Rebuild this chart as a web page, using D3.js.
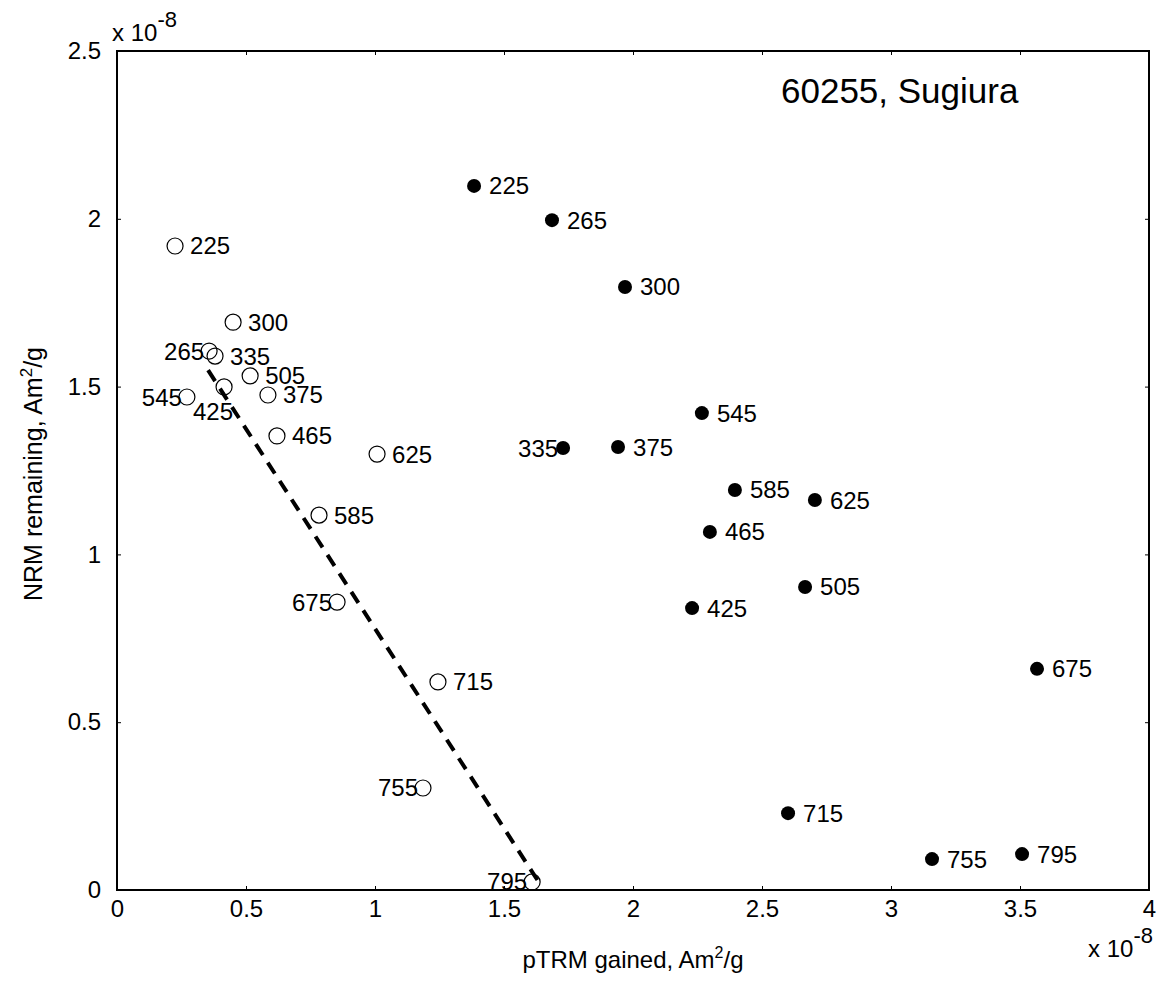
<!DOCTYPE html>
<html>
<head>
<meta charset="utf-8">
<script src="https://cdn.jsdelivr.net/npm/d3@7"></script>
<style>
body{margin:0;background:#fff;}
text{font-family:Arial,"Liberation Sans",sans-serif;fill:#000;}
</style>
</head>
<body>
<svg></svg>
<script>
var width = 1167;
var height = 983;

// temperature steps (deg C), same order for both series
var temps = [225, 265, 300, 335, 375, 425, 465, 505, 545, 585, 625, 675, 715, 755, 795];

// open circles: pTRM gained vs NRM remaining (x 1e-8)
var openX = [0.225, 0.357, 0.450, 0.380, 0.585, 0.415, 0.620, 0.516, 0.271, 0.783, 1.008, 0.853, 1.244, 1.186, 1.609];
var openY = [1.919, 1.606, 1.692, 1.591, 1.475, 1.499, 1.353, 1.532, 1.469, 1.117, 1.299, 0.858, 0.620, 0.304, 0.024];

// filled dots (x 1e-8)
var filledX = [1.384, 1.686, 1.969, 1.729, 1.942, 2.229, 2.298, 2.667, 2.267, 2.395, 2.705, 3.566, 2.601, 3.159, 3.508];
var filledY = [2.098, 1.996, 1.797, 1.317, 1.320, 0.840, 1.067, 0.903, 1.421, 1.192, 1.162, 0.659, 0.229, 0.092, 0.107];

// dashed best-fit segment
var fitX = [0.353, 1.647];
var fitY = [1.549, 0.009];

var xTicks = [0, 0.5, 1, 1.5, 2, 2.5, 3, 3.5, 4];
var yTicks = [0, 0.5, 1, 1.5, 2, 2.5];

// which side each label goes on
var openSide = ["r","l","r","r","r","b","r","r","l","r","r","l","r","l","l"];
var filledSide = ["r","r","r","l","r","r","r","r","r","r","r","r","r","r","r"];

var plotLeft = 117, plotRight = 1149, plotTop = 51, plotBottom = 890;

var svg = d3.select("svg").attr("width", width).attr("height", height);

var x = d3.scaleLinear().domain([0, 4]).range([plotLeft, plotRight]);
var y = d3.scaleLinear().domain([0, 2.5]).range([plotBottom, plotTop]);

var fmt = function(d){ return d3.format("")(d); };

// axes (ticks point inward)
svg.append("g")
  .attr("transform", "translate(0," + plotBottom + ")")
  .call(d3.axisBottom(x).tickValues(xTicks).tickFormat(fmt).tickSizeInner(-4).tickSizeOuter(0).tickPadding(10))
  .call(function(g){ g.select(".domain").remove(); });
svg.append("g")
  .attr("transform", "translate(0," + plotTop + ")")
  .call(d3.axisTop(x).tickValues(xTicks).tickFormat("").tickSizeInner(-4).tickSizeOuter(0))
  .call(function(g){ g.select(".domain").remove(); });
svg.append("g")
  .attr("transform", "translate(" + plotLeft + ",0)")
  .call(d3.axisLeft(y).tickValues(yTicks).tickFormat(fmt).tickSizeInner(-4).tickSizeOuter(0).tickPadding(16))
  .call(function(g){ g.select(".domain").remove(); });
svg.append("g")
  .attr("transform", "translate(" + plotRight + ",0)")
  .call(d3.axisRight(y).tickValues(yTicks).tickFormat("").tickSizeInner(-4).tickSizeOuter(0))
  .call(function(g){ g.select(".domain").remove(); });

svg.selectAll(".tick text").attr("font-size", 24).attr("font-family", "Arial, 'Liberation Sans', sans-serif");
svg.selectAll(".tick line").attr("stroke", "#000").attr("stroke-width", 1);

svg.append("rect")
  .attr("x", plotLeft).attr("y", plotTop)
  .attr("width", plotRight - plotLeft).attr("height", plotBottom - plotTop)
  .attr("fill", "none").attr("stroke", "#000").attr("stroke-width", 2);

// fit line
svg.append("line")
  .attr("x1", x(fitX[0])).attr("y1", y(fitY[0]))
  .attr("x2", x(fitX[1])).attr("y2", y(fitY[1]))
  .attr("stroke", "#000").attr("stroke-width", 4)
  .attr("stroke-dasharray", "13,9");

var openData = temps.map(function(t, i){ return {t: t, x: openX[i], y: openY[i], side: openSide[i]}; });
var filledData = temps.map(function(t, i){ return {t: t, x: filledX[i], y: filledY[i], side: filledSide[i]}; });

svg.append("g").selectAll("circle").data(openData).enter()
  .append("circle")
  .attr("cx", function(d){ return x(d.x); })
  .attr("cy", function(d){ return y(d.y); })
  .attr("r", 8)
  .attr("fill", "none").attr("stroke", "#000").attr("stroke-width", 1.2);

svg.append("g").selectAll("circle").data(filledData).enter()
  .append("circle")
  .attr("cx", function(d){ return x(d.x); })
  .attr("cy", function(d){ return y(d.y); })
  .attr("r", 7)
  .attr("fill", "#000");

function addLabels(data){
  svg.append("g").selectAll("text").data(data).enter()
    .append("text")
    .text(function(d){ return d.t; })
    .attr("font-size", 24)
    .attr("dominant-baseline", "central")
    .attr("x", function(d){
      if (d.side == "r") return x(d.x) + 15;
      if (d.side == "b") return x(d.x) + 9;
      return x(d.x) - 5;
    })
    .attr("y", function(d){
      return d.side == "b" ? y(d.y) + 25 : y(d.y);
    })
    .attr("text-anchor", function(d){ return d.side == "r" ? "start" : "end"; });
}
addLabels(openData);
addLabels(filledData);

// title
svg.append("text")
  .attr("x", 781).attr("y", 103)
  .attr("font-size", 35)
  .text("60255, Sugiura");

// axis titles
var xl = svg.append("text")
  .attr("x", (plotLeft + plotRight) / 2).attr("y", 968)
  .attr("text-anchor", "middle")
  .attr("font-size", 24);
xl.append("tspan").text("pTRM gained, Am");
xl.append("tspan").attr("dy", -10).attr("font-size", 16).text("2");
xl.append("tspan").attr("dy", 10).text("/g");

var yl = svg.append("text")
  .attr("transform", "translate(42,474) rotate(-90)")
  .attr("text-anchor", "middle")
  .attr("font-size", 25);
yl.append("tspan").text("NRM remaining, Am");
yl.append("tspan").attr("dy", -10).attr("font-size", 17).text("2");
yl.append("tspan").attr("dy", 10).text("/g");

// exponent labels
function exponent(px, py){
  var t = svg.append("text").attr("x", px).attr("y", py).attr("font-size", 24);
  t.append("tspan").text("x 10");
  t.append("tspan").attr("dy", -14).attr("font-size", 22).text("-8");
}
exponent(112, 41);
exponent(1088, 957);
</script>
</body>
</html>
